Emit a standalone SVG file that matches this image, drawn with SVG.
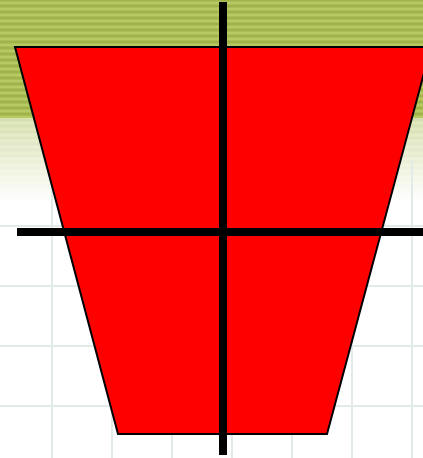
<svg xmlns="http://www.w3.org/2000/svg" width="423" height="458" viewBox="0 0 423 458">
<defs>
<linearGradient id="sg" x1="0" y1="0" x2="0" y2="1">
<stop offset="0" stop-color="#9aae45"/>
<stop offset="0.5" stop-color="#bccf68"/>
<stop offset="1" stop-color="#9aae45"/>
</linearGradient>
<pattern id="stripes" x="0" y="0" width="423" height="6" patternUnits="userSpaceOnUse">
<rect width="423" height="6" fill="url(#sg)"/>
</pattern>
<linearGradient id="fade" x1="0" y1="0" x2="0" y2="1">
<stop offset="0" stop-color="#ffffff" stop-opacity="0.55"/>
<stop offset="1" stop-color="#ffffff" stop-opacity="1"/>
</linearGradient>
</defs>
<style>
.grid{stroke:#e2ebe8;stroke-width:2;fill:none}
.axis{stroke:#000;stroke-width:8}
.shape{fill:#ff0000;stroke:#000;stroke-width:2}
</style>
<rect width="423" height="458" fill="#ffffff"/>
<rect x="0" y="0" width="423" height="200" fill="url(#stripes)"/>
<rect x="0" y="118" width="423" height="84" fill="url(#fade)"/>
<g id="grid">
<path class="grid" d="M52 160V458M112 160V458M172 160V458M232 160V458M292 160V458M352 160V458M412 160V458M0 226H423M0 286H423M0 346H423M0 406H423"/>
</g>
<g id="trapezoid">
<polygon class="shape" points="15,47 431,47 327,434 118,434"/>
</g>
<g id="axes">
<line class="axis" x1="223" y1="2" x2="223" y2="455"/>
<line class="axis" x1="17" y1="232" x2="423" y2="232"/>
</g>
</svg>
